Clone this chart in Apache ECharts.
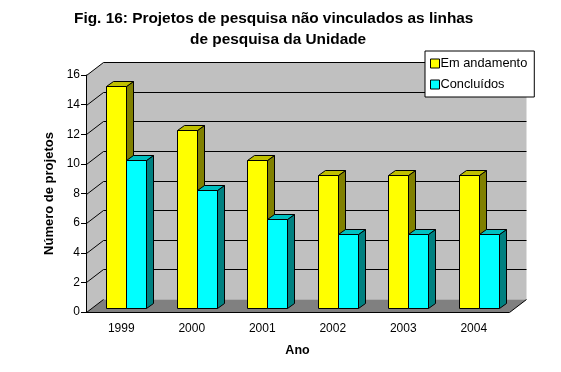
<!DOCTYPE html>
<html>
<head>
<meta charset="utf-8">
<title>Fig. 16</title>
<script src="https://cdn.jsdelivr.net/npm/echarts@6/dist/echarts.min.js"></script>
<style>
    html, body { margin: 0; padding: 0; background: #fff; }
    #chart { width: 561px; height: 372px; }
</style>
</head>
<body>
<div id="chart"></div>
<script>
var categories = ['1999', '2000', '2001', '2002', '2003', '2004'];
var emAndamento = [15, 12, 10, 9, 9, 9];
var concluidos = [10, 8, 6, 5, 5, 5];
var yTicks = [0, 2, 4, 6, 8, 10, 12, 14, 16];

// profundidade da "caixa" 3D, em pixels
var WALL_DX = 17, WALL_DY = 13;
var BAR_DX = 7, BAR_DY = 5;
var BAR_W = 20;
var FONT = '"Liberation Sans", Arial, sans-serif';
var TITLE_STYLE = {
    fontFamily: FONT,
    fontWeight: 'bold',
    fontSize: 15.4,
    lineHeight: 21,
    color: '#000'
};

function px(v) {
    return Math.round(v) + 0.5;
}

function line(x1, y1, x2, y2) {
    return {
        type: 'line',
        shape: { x1: x1, y1: y1, x2: x2, y2: y2 },
        style: { stroke: '#000', lineWidth: 1 }
    };
}

function poly(points, fill, stroke) {
    return {
        type: 'polygon',
        shape: { points: points },
        style: { fill: fill, stroke: stroke || null, lineWidth: 1 }
    };
}

// paredes e chao: uma vez so, o resto das linhas vem dos ticks
function renderWalls(params, api) {
    var r = params.coordSys;
    var left = px(r.x), right = px(r.x + r.width);
    var top = px(r.y), bottom = px(r.y + r.height);
    var children = [];

    if (params.dataIndex === 0) {
        children.push(poly([[left, top], [left + WALL_DX, top - WALL_DY], [right + WALL_DX, top - WALL_DY],
            [right + WALL_DX, bottom - WALL_DY], [left + WALL_DX, bottom - WALL_DY], [left, bottom]], '#c0c0c0'));
        children.push(poly([[left, bottom], [left + WALL_DX, bottom - WALL_DY], [right + WALL_DX, bottom - WALL_DY],
            [right, bottom]], '#808080'));
        children.push(line(right, bottom, right + WALL_DX, bottom - WALL_DY));
    }

    var y = px(api.coord([0, api.value(0)])[1]);
    children.push(line(left, y, left + WALL_DX, y - WALL_DY));
    if (params.dataIndex > 0) {
        children.push(line(left + WALL_DX, y - WALL_DY, right + WALL_DX, y - WALL_DY));
    }
    return { type: 'group', children: children };
}

function barRenderer(offset, front, topColor, side) {
    return function(params, api) {
        var base = api.coord([api.value(0), 0]);
        var head = api.coord([api.value(0), api.value(1)]);
        var x = px(base[0] - 15.2 + offset * BAR_W);
        var y0 = px(base[1] - 4);
        var y1 = px(head[1] - 4);
        var x2 = x + BAR_W;
        return {
            type: 'group',
            children: [
                poly([[x2, y1], [x2 + BAR_DX, y1 - BAR_DY], [x2 + BAR_DX, y0 - BAR_DY], [x2, y0]], side, '#000'),
                poly([[x, y1], [x + BAR_DX, y1 - BAR_DY], [x2 + BAR_DX, y1 - BAR_DY], [x2, y1]], topColor, '#000'),
                poly([[x, y1], [x2, y1], [x2, y0], [x, y0]], front, '#000')
            ]
        };
    };
}

function toBarData(values) {
    return values.map(function(v, i) {
        return [i, v];
    });
}

var char = echarts.init(document.getElementById('chart'), null, { renderer: 'canvas' });

char.setOption({
    animation: false,
    backgroundColor: '#fff',
    // duas linhas separadas: no original a segunda nao esta centrada com a primeira
    title: [
        {
            text: 'Fig. 16: Projetos de pesquisa não vinculados as linhas',
            left: 74,
            top: 8,
            padding: 0,
            textStyle: TITLE_STYLE
        },
        {
            text: 'de pesquisa da Unidade',
            left: 190,
            top: 29,
            padding: 0,
            textStyle: TITLE_STYLE
        }
    ],
    legend: {
        data: ['Em andamento', 'Concluídos'],
        orient: 'vertical',
        left: 425,
        top: 51,
        padding: [6, 7, 6, 5],
        itemGap: 8,
        itemWidth: 9,
        itemHeight: 9,
        icon: 'rect',
        backgroundColor: '#fff',
        borderColor: '#000',
        borderWidth: 1,
        borderRadius: 0,
        itemStyle: { borderColor: '#000', borderWidth: 1 },
        textStyle: { fontFamily: FONT, fontSize: 12.8, color: '#000', padding: [0, 0, 0, -4] },
        selectedMode: false,
        z: 20
    },
    grid: { left: 86, right: 52, top: 75, bottom: 60 },
    xAxis: {
        type: 'category',
        data: categories,
        name: 'Ano',
        nameLocation: 'middle',
        nameGap: 32,
        nameTextStyle: { fontFamily: FONT, fontWeight: 'bold', fontSize: 12.5, color: '#000' },
        axisLine: { lineStyle: { color: '#000', width: 1 } },
        axisTick: { length: 5, lineStyle: { color: '#000', width: 1 } },
        axisLabel: { fontFamily: FONT, fontSize: 12, color: '#000', margin: 11 },
        splitLine: { show: false },
        z: 5
    },
    yAxis: {
        type: 'value',
        min: 0,
        max: 16,
        interval: 2,
        name: 'Número de projetos',
        nameLocation: 'middle',
        nameGap: 28,
        nameTextStyle: { fontFamily: FONT, fontWeight: 'bold', fontSize: 13, color: '#000' },
        axisLine: { show: true, lineStyle: { color: '#000', width: 1 } },
        axisTick: { show: true, length: 5, lineStyle: { color: '#000', width: 1 } },
        axisLabel: { fontFamily: FONT, fontSize: 12, color: '#000', margin: 6, padding: [2, 0, 0, 0] },
        splitLine: { show: false },
        z: 5
    },
    series: [
        {
            type: 'custom',
            name: 'Paredes',
            silent: true,
            z: 1,
            data: yTicks.map(function(t) { return [t]; }),
            encode: { y: 0 },
            renderItem: renderWalls
        },
        {
            type: 'custom',
            name: 'Em andamento',
            silent: true,
            z: 3,
            itemStyle: { color: '#ffff00' },
            data: toBarData(emAndamento),
            encode: { x: 0, y: 1 },
            renderItem: barRenderer(0, '#ffff00', '#c0c000', '#808000')
        },
        {
            type: 'custom',
            name: 'Concluídos',
            silent: true,
            z: 3,
            itemStyle: { color: '#00ffff' },
            data: toBarData(concluidos),
            encode: { x: 0, y: 1 },
            renderItem: barRenderer(1, '#00ffff', '#00c0c0', '#008080')
        }
    ]
});
</script>
</body>
</html>
